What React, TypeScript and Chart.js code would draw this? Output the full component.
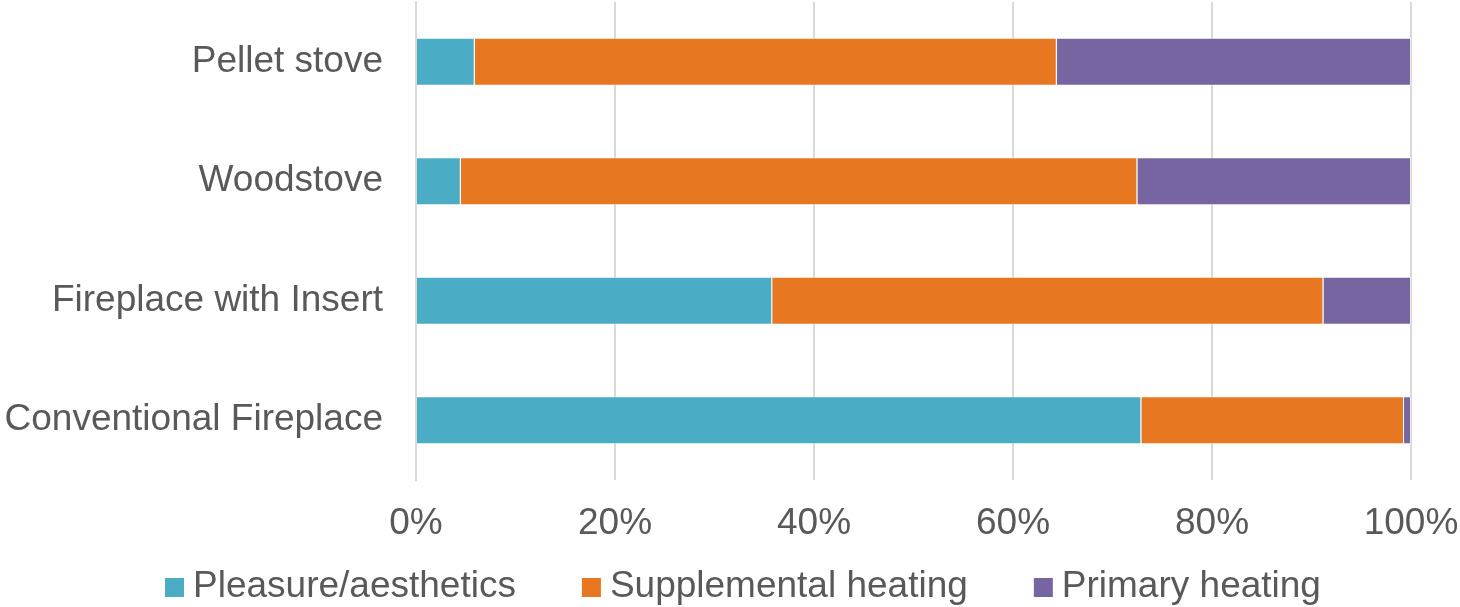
import React, { useEffect, useRef } from "react";
import { Chart, registerables } from "chart.js";

Chart.register(...registerables);

const categories = ["Pellet stove", "Woodstove", "Fireplace with Insert", "Conventional Fireplace"];
const pleasure = [5.9, 4.5, 35.8, 72.9];
const supplemental = [58.5, 68.0, 55.4, 26.4];
const primary = [35.6, 27.5, 8.8, 0.7];
const seriesNames = ["Pleasure/aesthetics", "Supplemental heating", "Primary heating"];
const seriesColors = ["#4BACC6", "#E87722", "#7665A0"];
const xTicks = [0, 20, 40, 60, 80, 100];

const FONT_FAMILY = "'Liberation Sans', Arial, sans-serif";
const FONT_SIZE = 37;
const TEXT_COLOR = "#595959";

const customLegend = {
  id: "customLegend",
  afterDraw(chart: any) {
    const ctx = chart.ctx;
    ctx.save();
    ctx.font = `${FONT_SIZE}px ${FONT_FAMILY}`;
    ctx.textBaseline = "alphabetic";
    ctx.textAlign = "left";
    const baseline = 597;
    const box = 19;
    const gapBoxText = 9;
    const gapItems = 66;
    let x = 165;
    chart.data.datasets.forEach((ds: any) => {
      ctx.fillStyle = ds.backgroundColor;
      ctx.fillRect(x, baseline - box, box, box);
      const tx = x + box + gapBoxText;
      ctx.fillStyle = TEXT_COLOR;
      ctx.fillText(ds.label, tx, baseline);
      x = tx + ctx.measureText(ds.label).width + gapItems;
    });
    ctx.restore();
  },
};

export default function App() {
  const ref = useRef<HTMLCanvasElement | null>(null);
  useEffect(() => {
    if (!ref.current) return;
    const font = { family: FONT_FAMILY, size: FONT_SIZE };
    const series = [pleasure, supplemental, primary];
    const chart = new Chart(ref.current, {
      type: "bar",
      data: {
        labels: categories,
        datasets: series.map((d, i) => ({
          label: seriesNames[i],
          data: d,
          backgroundColor: seriesColors[i],
          borderColor: "rgba(255,255,255,0.5)",
          borderWidth: 1,
          barPercentage: 0.4,
          categoryPercentage: 1,
        })),
      },
      options: {
        indexAxis: "y",
        animation: false,
        responsive: false,
        maintainAspectRatio: false,
        layout: { padding: { top: 2, left: 0, right: 0, bottom: 57 } },
        scales: {
          x: {
            stacked: true,
            min: 0,
            max: 100,
            afterBuildTicks: (axis: any) => {
              axis.ticks = xTicks.map((v) => ({ value: v }));
            },
            afterFit: (axis: any) => {
              axis.height = 70;
              axis.paddingLeft = 0;
              axis.paddingRight = 49;
            },
            ticks: {
              color: TEXT_COLOR,
              font,
              padding: 22,
              maxRotation: 0,
              callback: (v: any) => v + "%",
            },
            grid: { color: "#D9D9D9", lineWidth: 2, drawTicks: false },
            border: { display: false },
          },
          y: {
            stacked: true,
            afterFit: (axis: any) => {
              axis.width = 416;
              axis.paddingTop = 0;
              axis.paddingBottom = 0;
            },
            ticks: { color: TEXT_COLOR, font, padding: 33 },
            grid: { display: false, drawTicks: false },
            border: { display: true, color: "#D9D9D9", width: 2 },
          },
        },
        plugins: {
          legend: { display: false },
          tooltip: { enabled: false },
        },
      },
      plugins: [customLegend],
    } as any);
    return () => chart.destroy();
  }, []);
  return (
    <div style={{ position: "fixed", left: 0, top: 0, width: 1460, height: 607, background: "#fff" }}>
      <canvas ref={ref} width={1460} height={607} style={{ width: 1460, height: 607 }} />
    </div>
  );
}
